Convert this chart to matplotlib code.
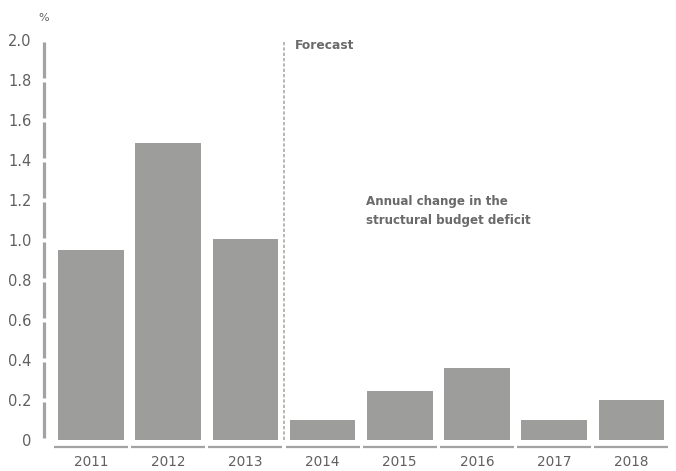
import matplotlib
matplotlib.use('Agg')
import matplotlib.pyplot as plt
import matplotlib.transforms as mtransforms

years = ["2011", "2012", "2013", "2014", "2015", "2016", "2017", "2018"]
deficit_change = [0.95, 1.485, 1.005, 0.10, 0.245, 0.36, 0.10, 0.20]
y_ticks = [0, 0.2, 0.4, 0.6, 0.8, 1.0, 1.2, 1.4, 1.6, 1.8, 2.0]
y_labels = ["0", "0.2", "0.4", "0.6", "0.8", "1.0", "1.2", "1.4", "1.6", "1.8", "2.0"]

bar_color = "#9d9d9c"
axis_color = "#a3a3a3"
text_color = "#606060"


def main():
    fig = plt.figure(figsize=(6.76, 4.71), dpi=100)
    ax = fig.add_axes([0.065, 0.0658, 0.926, 0.8492])

    x = list(range(len(years)))
    ax.bar(x, deficit_change, width=0.85, color=bar_color, zorder=2)

    x_left = -0.61
    ax.set_xlim(x_left, 7.5)
    ax.set_ylim(0, 2.0)

    for s in ax.spines.values():
        s.set_visible(False)

    # segmented y axis
    gap = 0.008
    for lo, hi in zip(y_ticks[:-1], y_ticks[1:]):
        ax.plot([x_left, x_left], [lo + gap, hi - gap], color=axis_color,
                lw=2.3, solid_capstyle="butt", clip_on=False, zorder=3)

    # segmented x axis below the bars
    trans = mtransforms.blended_transform_factory(ax.transData, ax.transAxes)
    xgap = 0.02
    for i in x:
        ax.plot([i - 0.5 + xgap, i + 0.5 - xgap], [-0.0175, -0.0175], color=axis_color,
                lw=1.6, solid_capstyle="butt", clip_on=False, transform=trans)

    ax.set_yticks(y_ticks)
    ax.set_yticklabels(y_labels)
    ax.set_xticks(x)
    ax.set_xticklabels(years)
    ax.tick_params(axis="both", length=0, colors=text_color)
    ax.tick_params(axis="y", pad=9, labelsize=10.5)
    ax.tick_params(axis="x", pad=11, labelsize=9.8)

    # forecast divider
    ax.axvline(2.5, color="#aaaaaa", lw=1.2, ls=(0, (2, 1.2)), zorder=1)
    ax.text(2.64, 1.975, "Forecast", color="#6a6a6a", fontsize=8.8,
            fontweight="bold", va="center", ha="left")
    ax.text(3.56, 1.145, "Annual change in the\nstructural budget deficit",
            color="#6a6a6a", fontsize=8.6, fontweight="bold", va="center",
            ha="left", linespacing=1.55)

    fig.text(0.064, 0.962, "%", color=text_color, fontsize=8, ha="center", va="center")

    fig.savefig("out.png", dpi=100)


if __name__ == "__main__":
    main()
